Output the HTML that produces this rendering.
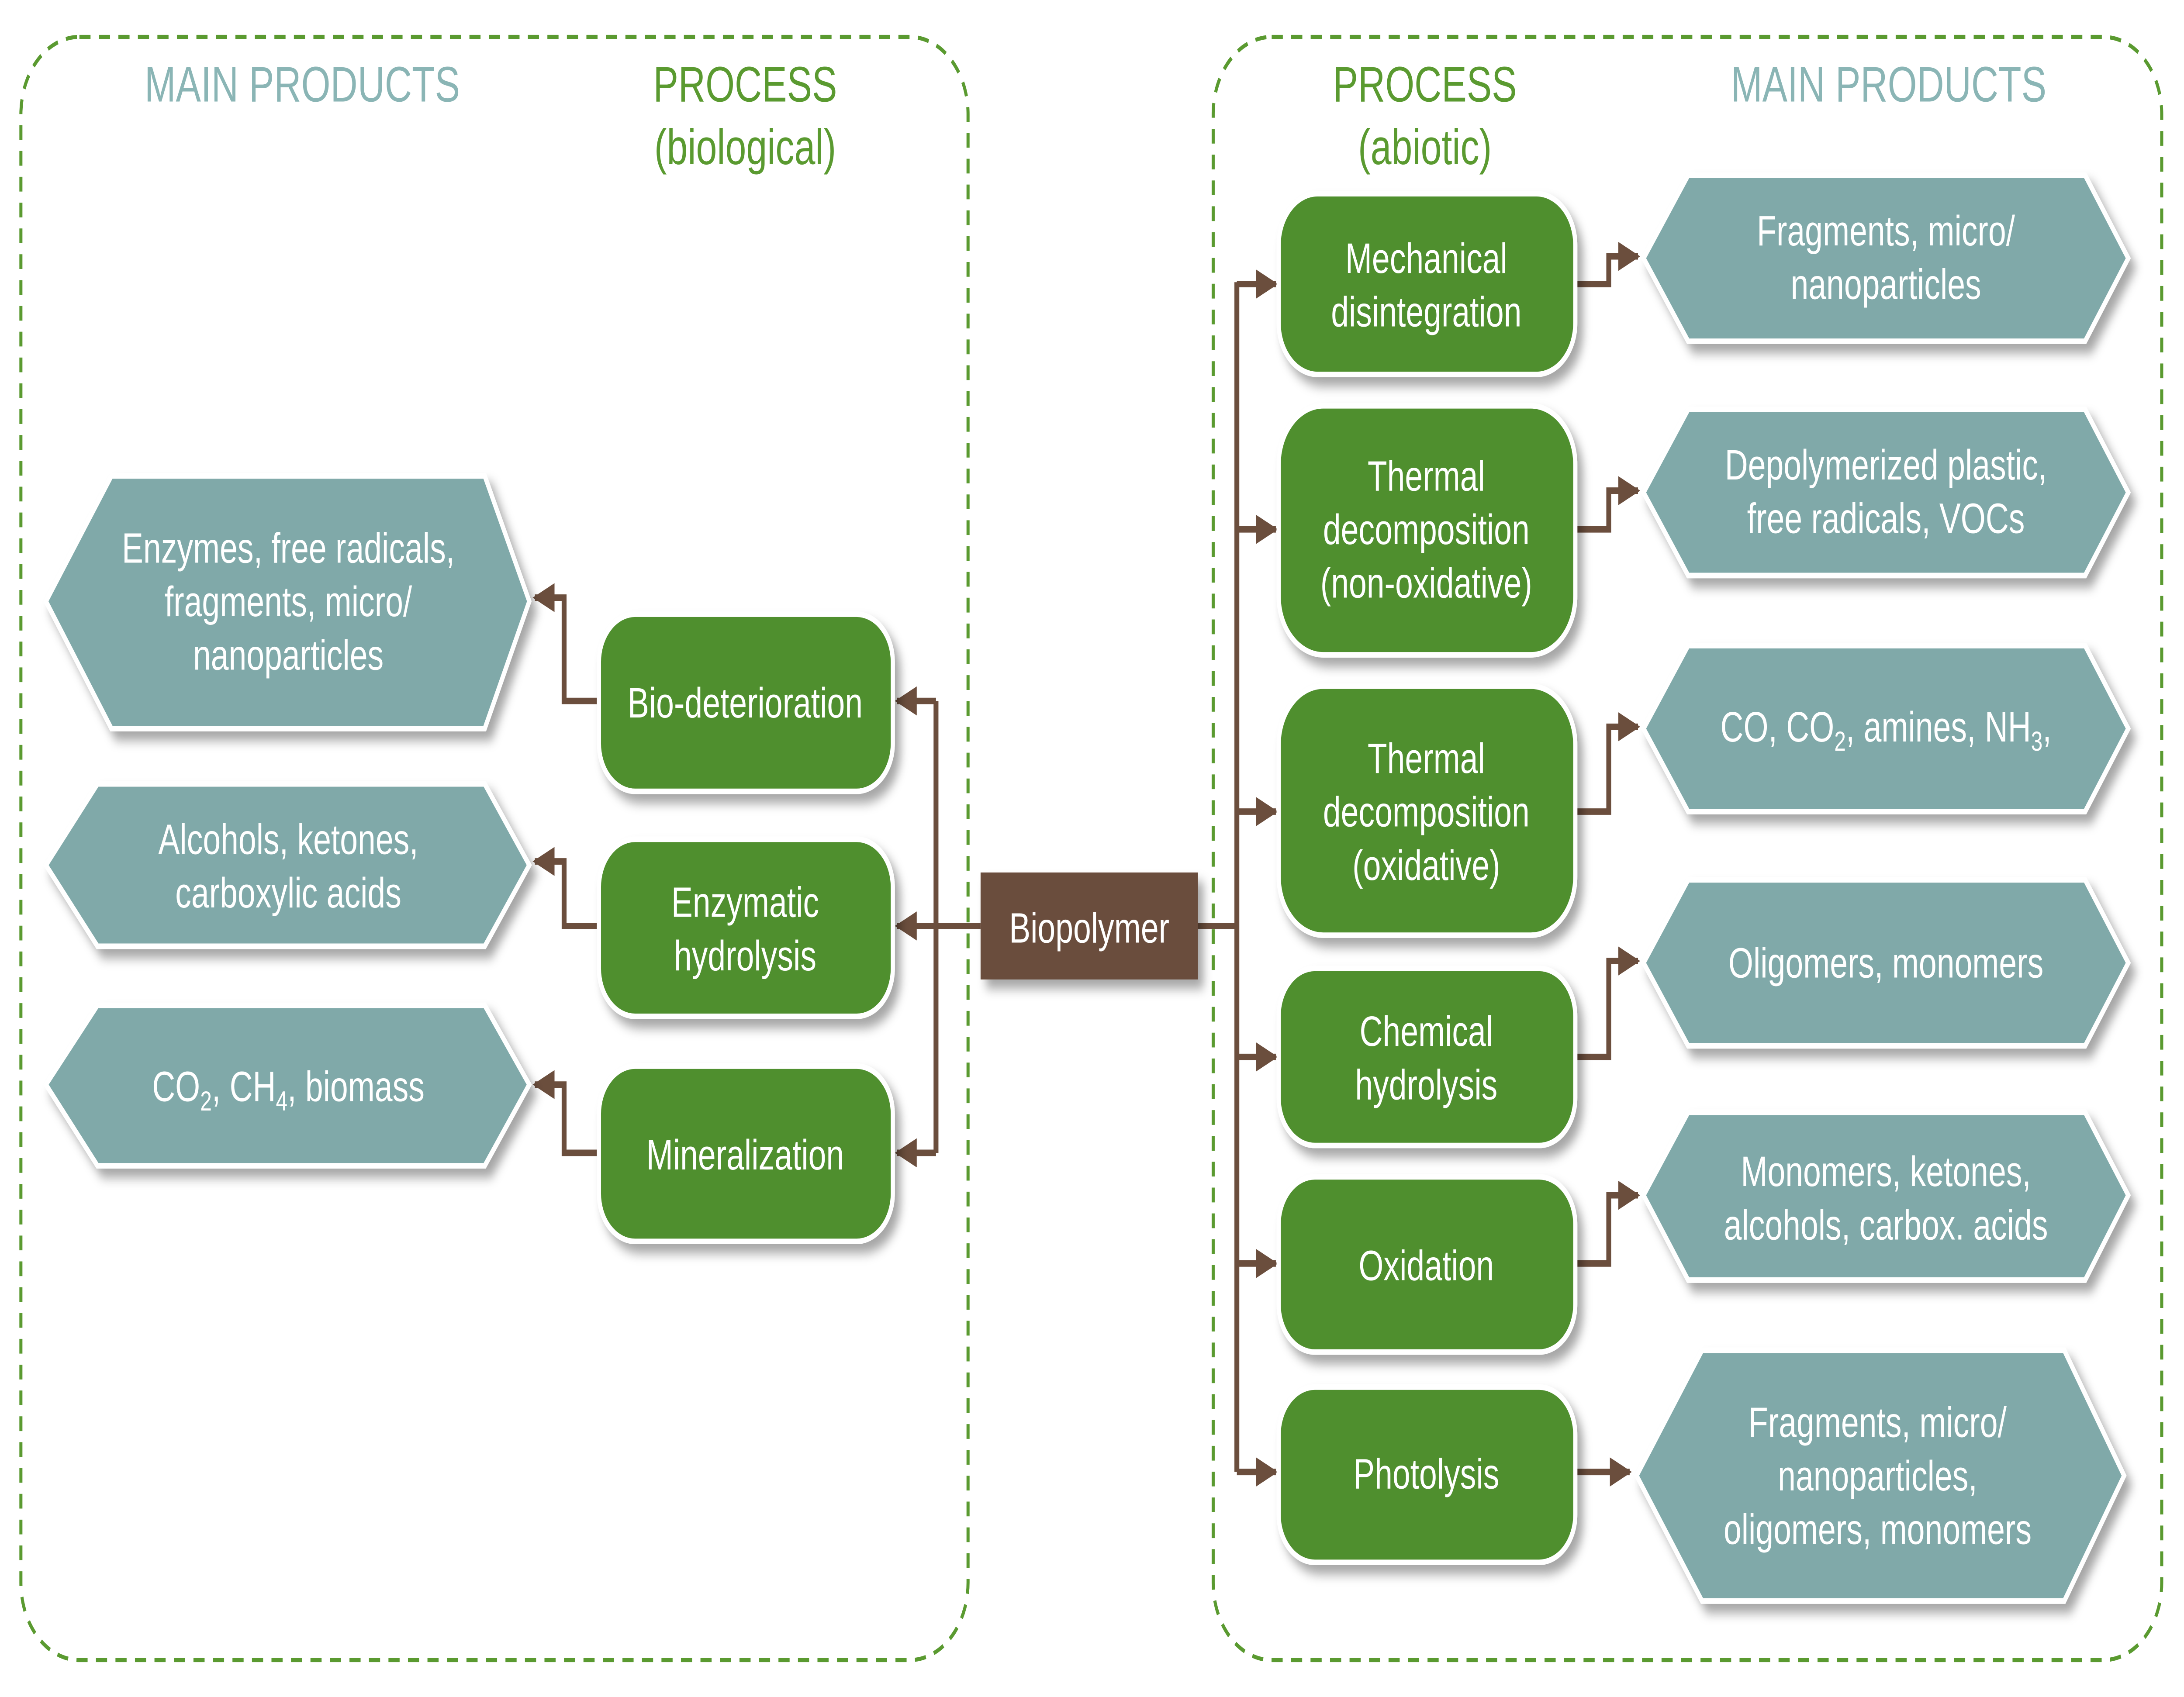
<!DOCTYPE html>
<html><head><meta charset="utf-8"><style>
html,body{margin:0;padding:0;background:#fff;width:100%;height:100%;overflow:hidden;}
svg{display:block;width:100vw;height:100vh;}
text{font-family:"Liberation Sans",sans-serif;}
</style></head><body>
<svg viewBox="0 0 1568 920" preserveAspectRatio="none" xmlns="http://www.w3.org/2000/svg">
<defs>
<filter id="sh" x="-20%" y="-20%" width="150%" height="160%">
<feDropShadow dx="4" dy="5" stdDeviation="3" flood-color="#000" flood-opacity="0.35"/>
</filter>
<marker id="ar" viewBox="0 0 10 10" refX="9" refY="5" markerWidth="4.5" markerHeight="4.5" orient="auto"><path d="M0,0L10,5L0,10z" fill="#6b4e3d"/></marker>
</defs>
<rect width="1568" height="920" fill="#fff"/>
<rect x="15" y="20" width="680" height="880" rx="42" fill="none" stroke="#5a9a30" stroke-width="2.2" stroke-dasharray="8,6"/>
<rect x="871" y="20" width="681" height="880" rx="42" fill="none" stroke="#5a9a30" stroke-width="2.2" stroke-dasharray="8,6"/>
<g font-size="27" text-anchor="middle">
<text x="217" y="55" fill="#8ab5b5">MAIN PRODUCTS</text>
<text x="535" y="55" fill="#5a9a30">PROCESS</text>
<text x="535" y="89" fill="#5a9a30">(biological)</text>
<text x="1023" y="55" fill="#5a9a30">PROCESS</text>
<text x="1023" y="89" fill="#5a9a30">(abiotic)</text>
<text x="1356" y="55" fill="#8ab5b5">MAIN PRODUCTS</text>
</g>
<g stroke="#6b4e3d" stroke-width="3.5" fill="none">
<path d="M704,502H672"/><path d="M672,380V625"/>
<path d="M672,380H644" marker-end="url(#ar)"/><path d="M672,502H644" marker-end="url(#ar)"/><path d="M672,625H644" marker-end="url(#ar)"/>
<path d="M430,380H405V324H384" marker-end="url(#ar)"/>
<path d="M430,502H405V467H384" marker-end="url(#ar)"/>
<path d="M430,625H405V588H384" marker-end="url(#ar)"/>
<path d="M860,502H888"/><path d="M888,153V798"/>
<path d="M888,154H916" marker-end="url(#ar)"/>
<path d="M888,287H916" marker-end="url(#ar)"/>
<path d="M888,440H916" marker-end="url(#ar)"/>
<path d="M888,573H916" marker-end="url(#ar)"/>
<path d="M888,685H916" marker-end="url(#ar)"/>
<path d="M888,798H916" marker-end="url(#ar)"/>
<path d="M1132,154H1155V139H1176" marker-end="url(#ar)"/>
<path d="M1132,287H1155V266H1176" marker-end="url(#ar)"/>
<path d="M1132,440H1155V394H1176" marker-end="url(#ar)"/>
<path d="M1132,573H1155V521H1176" marker-end="url(#ar)"/>
<path d="M1132,685H1155V648H1176" marker-end="url(#ar)"/>
<path d="M1132,798H1170" marker-end="url(#ar)"/>
</g>
<g fill="#80a9a9" stroke="#fff" stroke-width="3" filter="url(#sh)">
<path d="M80,258H348L380,326L348,395H80L33,326Z"/>
<path d="M70,425H348L380,469L348,513H70L33,469Z"/>
<path d="M70,545H348L380,588L348,632H70L33,588Z"/>
<path d="M1212,95H1497L1528,140L1497,185H1212L1180,140Z"/>
<path d="M1212,222H1497L1528,267L1497,312H1212L1180,267Z"/>
<path d="M1212,350H1497L1528,395L1497,440H1212L1180,395Z"/>
<path d="M1212,477H1497L1528,522L1497,567H1212L1180,522Z"/>
<path d="M1212,603H1497L1528,648L1497,694H1212L1180,648Z"/>
<path d="M1222,732H1482L1525,800L1482,868H1222L1175,800Z"/>
</g>
<g fill="#4f8f2f" stroke="#fff" stroke-width="3" filter="url(#sh)">
<rect x="430" y="333" width="211" height="96" rx="26"/>
<rect x="430" y="455" width="211" height="96" rx="26"/>
<rect x="430" y="578" width="211" height="95" rx="26"/>
<rect x="918" y="105" width="213" height="98" rx="28"/>
<rect x="918" y="220" width="213" height="135" rx="32"/>
<rect x="918" y="372" width="213" height="135" rx="32"/>
<rect x="918" y="525" width="213" height="96" rx="26"/>
<rect x="918" y="638" width="213" height="95" rx="26"/>
<rect x="918" y="752" width="213" height="95" rx="26"/>
</g>
<rect x="704" y="473" width="156" height="58" fill="#6b4e3d" filter="url(#sh)"/>
<g fill="#fff" font-size="23" text-anchor="middle">
<text x="782" y="511">Biopolymer</text>
<text x="535" y="389">Bio-deterioration</text>
<text x="535" y="497">Enzymatic</text><text x="535" y="526">hydrolysis</text>
<text x="535" y="634">Mineralization</text>
<text x="1024" y="148">Mechanical</text><text x="1024" y="177">disintegration</text>
<text x="1024" y="266">Thermal</text><text x="1024" y="295">decomposition</text><text x="1024" y="324">(non-oxidative)</text>
<text x="1024" y="419">Thermal</text><text x="1024" y="448">decomposition</text><text x="1024" y="477">(oxidative)</text>
<text x="1024" y="567">Chemical</text><text x="1024" y="596">hydrolysis</text>
<text x="1024" y="694">Oxidation</text>
<text x="1024" y="807">Photolysis</text>
<text x="207" y="305">Enzymes, free radicals,</text><text x="207" y="334">fragments, micro/</text><text x="207" y="363">nanoparticles</text>
<text x="207" y="463">Alcohols, ketones,</text><text x="207" y="492">carboxylic acids</text>
<text x="207" y="597">CO<tspan font-size="15" dy="5">2</tspan><tspan dy="-5">, CH</tspan><tspan font-size="15" dy="5">4</tspan><tspan dy="-5">, biomass</tspan></text>
<text x="1354" y="133">Fragments, micro/</text><text x="1354" y="162">nanoparticles</text>
<text x="1354" y="260">Depolymerized plastic,</text><text x="1354" y="289">free radicals, VOCs</text>
<text x="1354" y="402">CO, CO<tspan font-size="15" dy="5">2</tspan><tspan dy="-5">, amines, NH</tspan><tspan font-size="15" dy="5">3</tspan><tspan dy="-5">,</tspan></text>
<text x="1354" y="530">Oligomers, monomers</text>
<text x="1354" y="643">Monomers, ketones,</text><text x="1354" y="672">alcohols, carbox. acids</text>
<text x="1348" y="779">Fragments, micro/</text><text x="1348" y="808">nanoparticles,</text><text x="1348" y="837">oligomers, monomers</text>
</g>
</svg>
</body></html>
